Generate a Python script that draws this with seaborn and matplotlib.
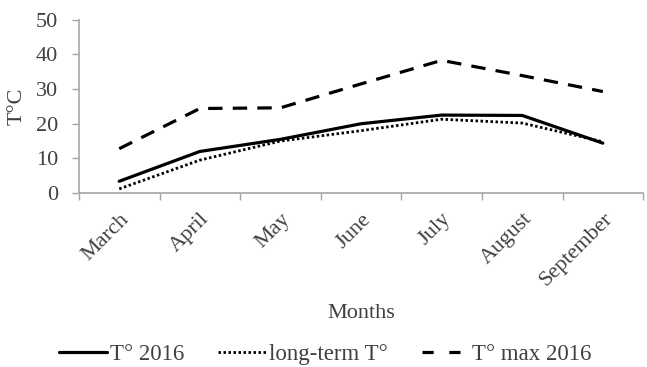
import matplotlib
matplotlib.use("Agg")
import matplotlib.pyplot as plt
import seaborn as sns
import pandas as pd
from matplotlib.ticker import FixedLocator

months = ["March", "April", "May", "June", "July", "August", "September"]
t2016 = [3.4, 12.0, 15.5, 20.0, 22.5, 22.4, 14.4]
t_longterm = [1.2, 9.5, 15.0, 18.0, 21.3, 20.2, 14.8]
t_max2016 = [12.8, 24.4, 24.6, 31.5, 38.3, 33.9, 29.3]
series_names = ["T° 2016", "long-term T°", "T° max 2016"]

sns.set_theme(style="white")
plt.rcParams['font.family'] = ['Liberation Serif', 'DejaVu Serif']
text_color = "#404040"
axis_color = "#a6a6a6"

df = pd.DataFrame({
    "Months": months * 3,
    "T": t2016 + t_longterm + t_max2016,
    "series": [series_names[0]] * 7 + [series_names[1]] * 7 + [series_names[2]] * 7,
})

fig = plt.figure(figsize=(6.47, 3.67), dpi=100)
ax = fig.add_axes([0.122, 0.474, 0.872, 0.472])

styles = {
    series_names[0]: dict(linestyle="-", linewidth=2.3),
    series_names[1]: dict(linestyle=(0, (0.9, 0.9)), linewidth=2.0),
    series_names[2]: dict(linestyle=(0, (4.5, 3.2)), linewidth=2.3),
}
for name in series_names:
    sub = df[df["series"] == name]
    sns.lineplot(data=sub, x="Months", y="T", ax=ax, color="black",
                 label=name, sort=False, **styles[name])

ax.set_xlim(-0.5, 6.5)
ax.set_ylim(0, 50)
ax.set_yticks([0, 10, 20, 30, 40, 50])
ax.set_xticks(range(7))
ax.set_xticklabels(months, rotation=45, ha="right", rotation_mode="anchor")
ax.xaxis.set_minor_locator(FixedLocator([i - 0.5 for i in range(8)]))
ax.tick_params(axis="x", which="major", length=0, pad=12, labelsize=16, labelcolor=text_color)
ax.tick_params(axis="x", which="minor", bottom=True, length=5, width=1, color=axis_color, direction="out")
ax.tick_params(axis="y", left=True, length=5, width=1, color=axis_color, labelsize=16, labelcolor=text_color, pad=10)

for s in ["top", "right"]:
    ax.spines[s].set_visible(False)
for s in ["left", "bottom"]:
    ax.spines[s].set_color(axis_color)
    ax.spines[s].set_linewidth(1.2)

ax.set_ylabel("T°C", fontsize=16, color=text_color, labelpad=7)
ax.set_xlabel("Months", fontsize=16, color=text_color, labelpad=10)

handles, labels = ax.get_legend_handles_labels()
ax.legend_.remove()
leg = fig.legend(handles, labels, loc="center", bbox_to_anchor=(0.503, 0.033), ncol=3,
                 frameon=False, fontsize=16.5, labelcolor=text_color, handlelength=2.1,
                 handletextpad=0.1, columnspacing=1.5)
leg.get_lines()[2].set_linestyle((0, (3.5, 4.9)))

fig.savefig("out.png", dpi=100)
